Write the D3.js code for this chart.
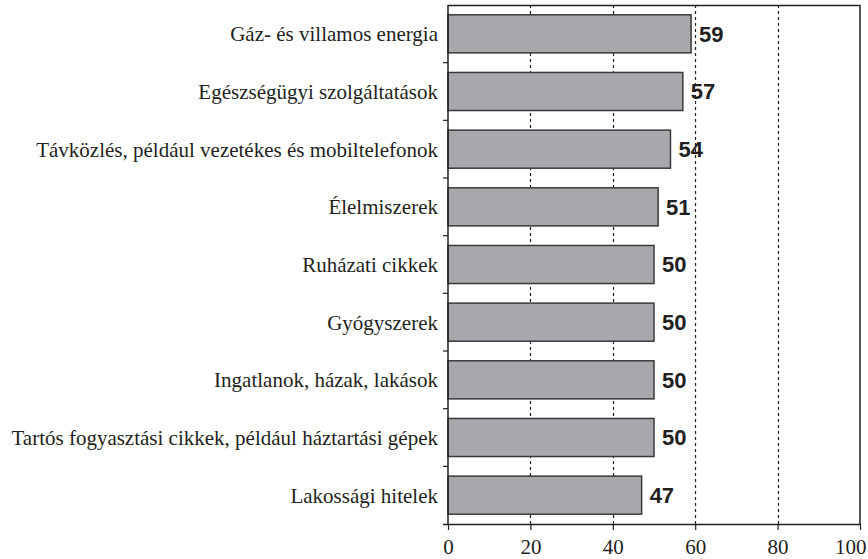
<!DOCTYPE html>
<meta charset='utf-8'>
<head>
<script src='https://d3js.org/d3.v7.min.js'></script>
<style>
  body{ margin: 0; background: #fff; }
  .cat{ font-family: 'Liberation Serif', 'Times New Roman', serif; font-size: 21px; fill: #231f20; }
  .val{ font-family: 'Liberation Sans', Arial, sans-serif; font-size: 22px; font-weight: bold; fill: #231f20; }
  .xaxis text{ font-family: 'Liberation Serif', 'Times New Roman', serif; font-size: 21px; fill: #231f20; }
</style>
</head>
<body>
<svg id="chart"></svg>
<script>

  var categories = ['Gáz- és villamos energia',
                    'Egészségügyi szolgáltatások',
                    'Távközlés, például vezetékes és mobiltelefonok',
                    'Élelmiszerek',
                    'Ruházati cikkek',
                    'Gyógyszerek',
                    'Ingatlanok, házak, lakások',
                    'Tartós fogyasztási cikkek, például háztartási gépek',
                    'Lakossági hitelek'];
  var values = [59, 57, 54, 51, 50, 50, 50, 50, 47];
  var xTicks = [0, 20, 40, 60, 80, 100];

  var width = 868, height = 559;
  var margin = {top: 5, right: 8, bottom: 35, left: 448};
  var innerW = width - margin.left - margin.right,
      innerH = height - margin.top - margin.bottom;

  var svg = d3.select('#chart')
      .attr('width', width)
      .attr('height', height);

  var g = svg.append('g')
      .attr('transform', 'translate(' + margin.left + ',' + margin.top + ')');

  var x = d3.scaleLinear().domain([0, 100]).range([0, innerW]);
  var y = d3.scaleBand().domain(categories).range([0, innerH]).paddingInner(0.34).paddingOuter(0.17);

  // dashed gridlines
  g.selectAll('.grid')
    .data(xTicks.slice(1, -1))
    .enter().append('line')
    .attr('x1', function(d) { return Math.round(x(d)) + 0.5; })
    .attr('x2', function(d) { return Math.round(x(d)) + 0.5; })
    .attr('y1', 0)
    .attr('y2', innerH)
    .attr('stroke', '#231f20')
    .attr('stroke-width', 1.2)
    .attr('stroke-dasharray', '3,3');

  // top and right border
  g.append('path')
    .attr('d', 'M0,0.5H' + x(100) + 'V' + innerH)
    .attr('fill', 'none')
    .attr('stroke', '#231f20')
    .attr('stroke-width', 1.5);

  // bars
  g.selectAll('.bar')
    .data(values)
    .enter().append('rect')
    .attr('x', x(0))
    .attr('y', function(d, i) { return y(categories[i]); })
    .attr('width', function(d) { return x(d) - x(0); })
    .attr('height', y.bandwidth())
    .attr('fill', '#a7a8ac')
    .attr('stroke', '#3a3a3a')
    .attr('stroke-width', 1.5);

  // value labels
  g.selectAll('.val')
    .data(values)
    .enter().append('text')
    .attr('class', 'val')
    .attr('x', function(d) { return x(d) + 8; })
    .attr('y', function(d, i) { return y(categories[i]) + y.bandwidth() / 2; })
    .attr('dy', '0.36em')
    .text(function(d) { return d; });

  // category labels
  g.selectAll('.cat')
    .data(categories)
    .enter().append('text')
    .attr('class', 'cat')
    .attr('x', -10)
    .attr('y', function(d) { return y(d) + y.bandwidth() / 2; })
    .attr('dy', '0.35em')
    .attr('text-anchor', 'end')
    .text(function(d) { return d; });

  // left axis with ticks between categories
  var sepData = d3.range(1, categories.length);
  g.append('line')
    .attr('x1', 0).attr('x2', 0)
    .attr('y1', 0).attr('y2', innerH)
    .attr('stroke', '#231f20').attr('stroke-width', 1.5);
  g.selectAll('.ytick')
    .data(sepData)
    .enter().append('line')
    .attr('x1', -5).attr('x2', 0)
    .attr('y1', function(d) { return d * innerH / categories.length; })
    .attr('y2', function(d) { return d * innerH / categories.length; })
    .attr('stroke', '#231f20').attr('stroke-width', 1.2);

  // bottom axis
  var xAxis = g.append('g')
    .attr('class', 'xaxis')
    .attr('transform', 'translate(0,' + innerH + ')')
    .call(d3.axisBottom(x).tickValues(xTicks).tickSize(6).tickPadding(9));
  xAxis.select('.domain').attr('stroke', '#231f20').attr('stroke-width', 1.5).attr('d', 'M-5,0.5H' + x(100));
  xAxis.selectAll('line').attr('stroke', '#231f20').attr('stroke-width', 1.2);
  xAxis.selectAll('text').attr('dy', '0.71em');
  // last label kept inside the page
  xAxis.selectAll('text').filter(function(d) { return d === 100; })
    .attr('text-anchor', 'end').attr('x', 6);

</script>
</body>
</html>
